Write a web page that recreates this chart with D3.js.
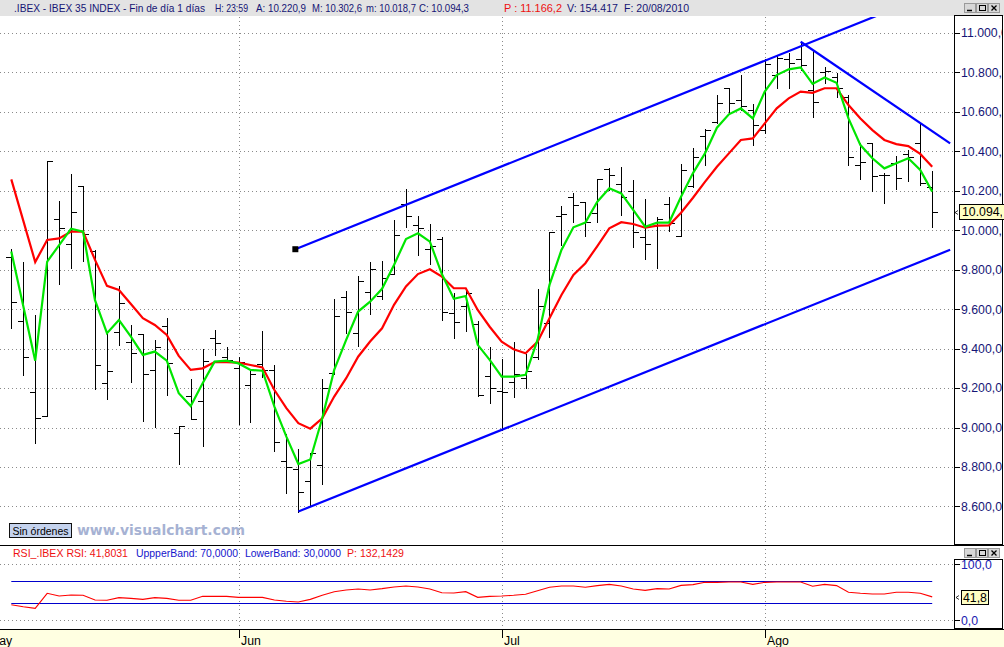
<!DOCTYPE html>
<html><head><meta charset="utf-8">
<script src="https://cdn.jsdelivr.net/npm/d3@7"></script>
<style>
body{margin:0;background:#fff;}
svg{display:block;font-family:"Liberation Sans",Arial,sans-serif;}
</style>
</head><body>
<svg id="chart" width="1004" height="647"></svg>
<script>
// ---------- DATA ----------
const opens  = [9863,9538,9179,9060,10056,9929,10224,9897,9224,9483,9434,9474,9290,9513,8972,9160,9133,9452,9360,9300,
                9216,9320,9292,8831,8790,8729,8810,9278,9664,9478,9686,9667,9778,10131,10025,9905,9956,9579,9616,9526,9263,
                9185,9233,9250,9360,9528,10072,10170,10145,10089,10309,10235,10199,9964,10020,10131,9971,10224,
                10478,10550,10720,10660,10610,10508,10787,10867,10867,10711,10800,10779,10677,10331,10441,10280,10340,10387,10441,10220.9];
const highs  = [9905,9839,9571,10350,10149,10285,10224,9900,9478,9718,9520,9474,9442,9553,9008,9244,9398,9495,9407,9356,
                9295,9488,9317,8966,8890,8869,9244,9652,9692,9768,9841,9844,10052,10209,10072,10032,9968,9681,9694,9542,9407,
                9346,9436,9373,9700,9993,10123,10187,10145,10258,10314,10323,10255,10157,10069,10167,10336,10415,
                10514,10686,10720,10787,10640,10867,10889,10901,10956,10914,10830,10799,10686,10441,10444,10289,10377,10407,10542,10302.6];
const lows   = [9507,9268,8923,9060,9728,9811,9846,9194,9143,9420,9233,9035,9004,9165,8814,9042,8908,9370,9332,9018,
                9030,9258,8883,8667,8574,8607,8712,9272,9481,9415,9574,9650,9778,10015,9875,9828,9545,9452,9491,9162,9123,
                8988,9157,9202,9346,9457,9925,10044,9971,10044,10204,10078,9914,9853,9807,9998,9971,10221,
                10331,10546,10601,10610,10432,10492,10720,10720,10813,10576,10745,10677,10331,10258,10201,10140,10208,10252,10230,10018.7];
const closes = [9635,9356,9047,10350,10010,10091,9980,9316,9285,9630,9378,9270,9407,9326,9008,9042,9336,9429,9343,9330,
                9272,9290,8925,8802,8673,8869,9199,9566,9584,9743,9804,9760,9976,10072,10010,9920,9586,9535,9680,9165,9199,
                9180,9270,9287,9616,9993,10083,10128,10044,10258,10280,10167,9993,9931,10055,10038,10306,10370,
                10510,10644,10647,10630,10534,10841,10872,10846,10840,10652,10810,10720,10373,10345,10275,10280,10264,10373,10238,10094.3];
const maFast = [9892,9616,9339,9841,9925,10008,9993,9646,9478,9545,9461,9368,9385,9339,9174,9109,9224,9334,9339,9325,
                9292,9288,9106,8954,8815,8838,9047,9292,9444,9588,9638,9703,9824,9956,9985,9942,9778,9653,9667,9419,9343,
                9258,9258,9267,9444,9723,9900,10015,10039,10145,10213,10187,10103,10018,10039,10039,10170,10290,
                10390,10520,10588,10618,10567,10703,10787,10816,10826,10742,10775,10748,10567,10432,10365,10314,10340,10365,10306,10196];
const maSlow = [10258,10049,9839,9951,9959,9993,9993,9850,9718,9697,9626,9554,9520,9469,9363,9292,9300,9332,9332,9329,
                9317,9305,9190,9098,9022,8994,9047,9157,9250,9359,9436,9503,9622,9715,9778,9802,9765,9706,9706,9596,9511,
                9435,9397,9376,9435,9554,9672,9773,9833,9920,10010,10041,10032,10013,10024,10025,10089,10165,
                10245,10322,10390,10458,10466,10542,10618,10669,10703,10697,10720,10720,10635,10567,10508,10458,10437,10427,10387,10322];
const rsiValues = [27.9,24.3,21.4,48.2,43.4,45.2,44.6,36.3,35.7,40.4,39.2,37.4,40.4,39.2,35.7,35.7,42.8,42.8,42.8,41.0,
                41.0,41.0,36.3,33.9,32.7,37.4,44.6,51.1,54.1,55.9,54.1,56.5,59.5,61.3,59.5,55.9,49.3,48.8,51.1,41.0,42.8,
                43.4,44.6,46.4,52.9,58.9,61.3,61.3,58.9,61.9,64.2,61.3,55.9,53.5,56.5,55.9,62.4,63.7,
                67.8,67.8,68.4,68.4,64.2,67.8,68.4,68.4,68.4,60.7,64.2,61.9,50.0,48.2,47.0,47.0,50.0,50.0,48.2,41.8];
const priceTicks = [8600,8800,9000,9200,9400,9600,9800,10000,10200,10400,10600,10800,11000];
const rsiTicks = [0,100];
const rsiBands = [70,30];
const monthLabels = ["May","Jun","Jul","Ago"];
const monthStartBar = [-2,19,41,63];
// trend lines: [barIndex, price] pairs
const channelUpper = [[23.75,9904],[78.5,11237]];
const channelLower = [[24,8574],[78.5,9901]];
const resistance   = [[66,10956],[78.5,10441]];
const lastPrice = 10094.3, lastRsi = 41.8;

// ---------- SETUP ----------
const svg = d3.select("#chart");
const W = 1004, H = 647;
const plotRight = 955, mainTop = 16, mainBottom = 545, rsiTop = 560, rsiBottom = 629;
const x = d3.scaleLinear().domain([0, 77]).range([11.3, 932.2]);
const y = d3.scaleLinear().domain([8600, 11000]).range([506.4, 33.05]);
const yr = d3.scaleLinear().domain([0, 100]).range([620.3, 564.3]);
const loc = d3.formatLocale({decimal: ",", thousands: ".", grouping: [3], currency: ["", ""]});
const fmt = loc.format(",.1f");
const navy = "#151575";

const defs = svg.append("defs");
defs.append("clipPath").attr("id","mainClip").append("rect").attr("x",0).attr("y",mainTop+1).attr("width",plotRight).attr("height",mainBottom-mainTop-1);
defs.append("clipPath").attr("id","axClip").append("rect").attr("x",plotRight).attr("y",mainTop).attr("width",47).attr("height",mainBottom-mainTop);
defs.append("clipPath").attr("id","rsiAxClip").append("rect").attr("x",plotRight).attr("y",rsiTop).attr("width",47).attr("height",rsiBottom-rsiTop);
defs.append("clipPath").attr("id","tagClip").append("rect").attr("x",957).attr("y",0).attr("width",45).attr("height",H);

svg.append("rect").attr("width",W).attr("height",H).attr("fill","#fff");

// header bar
svg.append("rect").attr("x",0).attr("y",0).attr("width",W).attr("height",mainTop).attr("fill","#e3e3e3");
const hdr = [
  [14, ".IBEX - IBEX 35 INDEX - Fin de día 1 días", navy, 191],
  [215, "H: 23:59", navy, 33],
  [256, "A: 10.220,9", navy, 50],
  [312, "M: 10.302,6", navy, 50],
  [366, "m: 10.018,7", navy, 50],
  [419, "C: 10.094,3", navy, 50],
  [504, "P : 11.166,2", "#ee1111", 58],
  [567, "V: 154.417", navy, 51],
  [624, "F: 20/08/2010", navy, 65]
];
svg.append("g").selectAll("text").data(hdr).join("text")
  .attr("x",d=>d[0]).attr("y",12).attr("font-size",10.3).attr("fill",d=>d[2])
  .attr("textLength",d=>d[3]).attr("lengthAdjust","spacingAndGlyphs")
  .text(d=>d[1]);

function winButtons(yy){
  const g = svg.append("g");
  [964,976,988].forEach((bx,k)=>{
    g.append("rect").attr("x",bx+0.5).attr("y",yy+0.5).attr("width",11).attr("height",9)
      .attr("fill","#d8d8d8").attr("stroke","#9a9a9a");
  });
  g.append("line").attr("x1",967).attr("x2",972).attr("y1",yy+7.5).attr("y2",yy+7.5).attr("stroke","#000").attr("stroke-width",1.5);
  g.append("rect").attr("x",979.5).attr("y",yy+2.5).attr("width",6).attr("height",5).attr("fill","none").attr("stroke","#000");
  g.append("path").attr("d",`M991.5,${yy+2.5}L996.5,${yy+7.5}M996.5,${yy+2.5}L991.5,${yy+7.5}`).attr("stroke","#000").attr("stroke-width",1.3);
}
winButtons(3);
winButtons(548);

// ---------- GRID ----------
const grid = svg.append("g").attr("stroke","#8a8a8a").attr("stroke-dasharray","1,3");
grid.selectAll("line.h").data(priceTicks).join("line")
  .attr("x1",0).attr("x2",plotRight).attr("y1",d=>Math.round(y(d))+0.5).attr("y2",d=>Math.round(y(d))+0.5);
grid.selectAll("line.r").data(rsiTicks).join("line")
  .attr("x1",0).attr("x2",plotRight).attr("y1",d=>Math.round(yr(d))+0.5).attr("y2",d=>Math.round(yr(d))+0.5);
grid.selectAll("line.v").data(monthStartBar).join("line")
  .attr("x1",d=>Math.round(x(d))+0.5).attr("x2",d=>Math.round(x(d))+0.5).attr("y1",mainTop+1).attr("y2",rsiBottom);

// ---------- MAIN PANEL ----------
const main = svg.append("g").attr("clip-path","url(#mainClip)");
const idx = d3.range(opens.length);
const bars = main.append("g").attr("stroke","#000").attr("stroke-width",1).attr("shape-rendering","crispEdges");
bars.selectAll("line.v").data(idx).join("line")
  .attr("x1",i=>Math.round(x(i))+0.5).attr("x2",i=>Math.round(x(i))+0.5)
  .attr("y1",i=>Math.round(y(highs[i]))).attr("y2",i=>Math.round(y(lows[i]))+1);
bars.selectAll("line.o").data(idx).join("line")
  .attr("x1",i=>Math.round(x(i))-5).attr("x2",i=>Math.round(x(i))+1)
  .attr("y1",i=>Math.round(y(opens[i]))+0.5).attr("y2",i=>Math.round(y(opens[i]))+0.5);
bars.selectAll("line.c").data(idx).join("line")
  .attr("x1",i=>Math.round(x(i))).attr("x2",i=>Math.round(x(i))+6)
  .attr("y1",i=>Math.round(y(closes[i]))+0.5).attr("y2",i=>Math.round(y(closes[i]))+0.5);

const lineGen = arr => d3.line().x((d,i)=>x(i)).y(d=>y(d))(arr);
main.append("path").attr("d",lineGen(maSlow)).attr("fill","none").attr("stroke","#ff0000").attr("stroke-width",2.2);
main.append("path").attr("d",lineGen(maFast)).attr("fill","none").attr("stroke","#00e600").attr("stroke-width",2.2);

const tl = d3.line().x(d=>x(d[0])).y(d=>y(d[1]));
[channelUpper, channelLower, resistance].forEach(p=>{
  main.append("path").attr("d",tl(p)).attr("fill","none").attr("stroke","#0000ff").attr("stroke-width",2.2);
});
main.append("rect").attr("x",x(channelUpper[0][0])-3).attr("y",y(channelUpper[0][1])-3).attr("width",6).attr("height",6).attr("fill","#000");

// Sin órdenes + watermark
svg.append("rect").attr("x",9.5).attr("y",523.5).attr("width",62).attr("height",14).attr("fill","#c5d3ee").attr("stroke","#111");
svg.append("text").attr("x",12.5).attr("y",534.5).attr("font-size",11).attr("fill","#000").attr("textLength",56).attr("lengthAdjust","spacingAndGlyphs").text("Sin órdenes");
svg.append("text").attr("x",77).attr("y",535).attr("font-size",14.5).attr("font-weight","bold")
  .attr("font-family","'DejaVu Sans',Verdana,sans-serif").attr("fill","#a6b2d3")
  .attr("textLength",168).attr("lengthAdjust","spacingAndGlyphs").text("www.visualchart.com");

// ---------- PRICE AXIS ----------
const ax = svg.append("g").attr("clip-path","url(#axClip)");
ax.selectAll("line").data(priceTicks).join("line")
  .attr("x1",plotRight).attr("x2",plotRight+5).attr("y1",d=>Math.round(y(d))+0.5).attr("y2",d=>Math.round(y(d))+0.5)
  .attr("stroke","#000");
ax.selectAll("text").data(priceTicks).join("text")
  .attr("x",961).attr("y",d=>y(d)).attr("dy","0.36em").attr("font-size",12.3).attr("fill",navy)
  .text(d=>fmt(d));
svg.append("rect").attr("x",plotRight-0.5).attr("y",mainTop-0.5).attr("width",48).attr("height",mainBottom-mainTop)
  .attr("fill","none").attr("stroke","#000");

// last price tag
const lp = Math.round(y(lastPrice));
svg.append("path").attr("d",`M955,${lp+0.5}L958,${lp-1.5}M955,${lp+0.5}L958,${lp+2.5}`).attr("stroke","#000").attr("stroke-width",0.8);
svg.append("rect").attr("x",959.5).attr("y",lp-7.5).attr("width",46).attr("height",15).attr("fill","#ffffc4").attr("stroke","#000");
svg.append("text").attr("clip-path","url(#tagClip)").attr("x",962).attr("y",lp).attr("dy","0.36em").attr("font-size",12.3).attr("fill","#000").text(fmt(lastPrice));

// panel separator lines
svg.append("line").attr("x1",0).attr("x2",W).attr("y1",mainBottom+0.5).attr("y2",mainBottom+0.5).attr("stroke","#000");
svg.append("line").attr("x1",0).attr("x2",W).attr("y1",rsiBottom+0.5).attr("y2",rsiBottom+0.5).attr("stroke","#000");

// ---------- RSI PANEL ----------
const rh = [
  [13, "RSI_.IBEX RSI: 41,8031", "#ee1111", 115],
  [136, "UppperBand: 70,0000", "#1515cc", 102],
  [245, "LowerBand: 30,0000", "#1515cc", 96],
  [347, "P: 132,1429", "#ee1111", 57]
];
svg.append("g").selectAll("text").data(rh).join("text")
  .attr("x",d=>d[0]).attr("y",557).attr("font-size",10.5).attr("fill",d=>d[2])
  .attr("textLength",d=>d[3]).attr("lengthAdjust","spacingAndGlyphs").text(d=>d[1]);

svg.append("g").selectAll("line").data(rsiBands).join("line")
  .attr("x1",x(0)).attr("x2",x(77)).attr("y1",d=>Math.round(yr(d))+0.5).attr("y2",d=>Math.round(yr(d))+0.5)
  .attr("stroke","#0000cc").attr("stroke-width",1.1);
svg.append("path").attr("d",d3.line().x((d,i)=>x(i)).y(d=>yr(d))(rsiValues))
  .attr("fill","none").attr("stroke","#ff0000").attr("stroke-width",1.1);

const rax = svg.append("g").attr("clip-path","url(#rsiAxClip)");
rax.selectAll("line").data(rsiTicks).join("line")
  .attr("x1",plotRight).attr("x2",plotRight+5).attr("y1",d=>Math.round(yr(d))+0.5).attr("y2",d=>Math.round(yr(d))+0.5).attr("stroke","#000");
rax.selectAll("text").data(rsiTicks).join("text")
  .attr("x",961).attr("y",d=>yr(d)).attr("dy","0.36em").attr("font-size",12.3).attr("fill","#2020b0").text(d=>fmt(d));
svg.append("rect").attr("x",plotRight-0.5).attr("y",rsiTop-0.5).attr("width",48).attr("height",rsiBottom-rsiTop)
  .attr("fill","none").attr("stroke","#000");
const lr = Math.round(yr(lastRsi));
svg.append("path").attr("d",`M956,${lr+0.5}L959,${lr-1.5}M956,${lr+0.5}L959,${lr+2.5}`).attr("stroke","#000").attr("stroke-width",0.8);
svg.append("rect").attr("x",961.5).attr("y",lr-6.5).attr("width",27).attr("height",14).attr("fill","#ffffc4").attr("stroke","#000");
svg.append("text").attr("x",963).attr("y",lr+0.5).attr("dy","0.36em").attr("font-size",12.3).attr("fill","#000").text(loc.format(".1f")(lastRsi));

// ---------- TIME AXIS ----------
svg.append("rect").attr("x",0).attr("y",rsiBottom+1).attr("width",W).attr("height",H-rsiBottom-1).attr("fill","#ffffe1");
const tg = svg.append("g");
tg.selectAll("line").data(monthStartBar).join("line")
  .attr("x1",d=>Math.round(x(d))+0.5).attr("x2",d=>Math.round(x(d))+0.5).attr("y1",rsiBottom).attr("y2",rsiBottom+9).attr("stroke","#000");
tg.selectAll("text").data(monthStartBar).join("text")
  .attr("x",d=>Math.round(x(d))+2).attr("y",645).attr("font-size",12.3).attr("fill","#000")
  .text((d,i)=>monthLabels[i]);
</script>
</body></html>
